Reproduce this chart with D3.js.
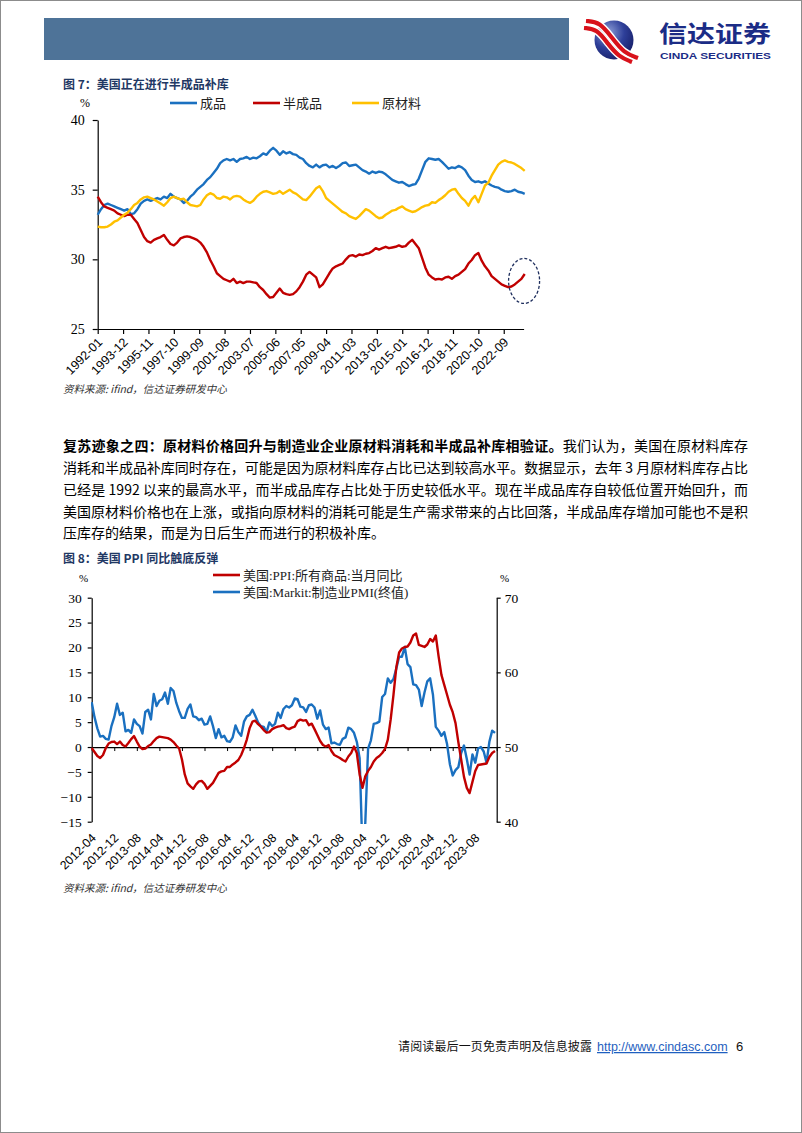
<!DOCTYPE html>
<html><head><meta charset="utf-8">
<script src="https://cdn.jsdelivr.net/npm/d3@7"></script>
<style>body{margin:0;background:#fff}svg{display:block}</style>
</head><body>
<svg id="page" width="802" height="1133"></svg>
<script>
// ---------------- DATA: chart 1 (quarterly samples from 1992-01, step 3 months) ----------------
const c1Start = "1992-01";
const c1Step = 3;
const c1Ticks = ["1992-01","1993-12","1995-11","1997-10","1999-09","2001-08","2003-07","2005-06","2007-05","2009-04","2011-03","2013-02","2015-01","2016-12","2018-11","2020-10","2022-09"];
const c1YTicks = [25,30,35,40];
const c1Names = ["成品","半成品","原材料"];
const c1Finished = [33.2,33.6,33.9,34.0,33.9,33.8,33.7,33.6,33.5,33.6,
33.25,33.3,33.6,34.0,34.2,34.3,34.2,34.3,34.4,34.3,
34.5,34.4,34.7,34.5,34.4,34.3,34.05,34.2,34.5,34.7,
35.0,35.2,35.4,35.7,35.9,36.2,36.5,36.9,37.1,37.2,
37.1,37.2,37.0,37.2,37.25,37.35,37.2,37.3,37.25,37.4,
37.6,37.5,37.8,38.0,37.8,37.5,37.75,37.6,37.7,37.55,
37.5,37.3,37.2,36.9,36.7,36.6,36.8,36.6,36.75,36.8,
36.6,36.7,36.55,36.7,36.9,36.95,36.7,36.75,36.8,36.6,
36.4,36.3,36.15,36.3,36.2,36.3,36.25,36.1,35.9,35.7,
35.6,35.5,35.55,35.4,35.26,35.35,35.4,35.8,36.4,37.0,
37.25,37.2,37.15,37.2,37.0,36.75,36.5,36.6,36.55,36.7,
36.6,36.4,36.0,35.7,35.55,35.6,35.5,35.6,35.45,35.3,
35.2,35.15,35.0,34.9,34.85,34.9,35.0,34.85,34.8,34.7];
const c1Semi = [34.5,34.1,33.8,33.7,33.6,33.5,33.3,33.2,33.1,33.2,
33.2,32.9,32.6,32.1,31.6,31.3,31.2,31.4,31.5,31.6,
31.75,31.4,31.1,31.0,31.2,31.5,31.6,31.65,31.6,31.5,
31.4,31.2,30.9,30.5,29.95,29.5,29.0,28.8,28.6,28.5,
28.4,28.6,28.3,28.4,28.3,28.4,28.4,28.35,28.3,28.0,
27.8,27.5,27.25,27.3,27.6,27.9,27.6,27.5,27.45,27.5,
27.7,28.0,28.4,28.9,29.1,28.9,28.7,28.0,28.2,28.6,
29.0,29.35,29.5,29.6,29.7,30.0,30.25,30.3,30.2,30.35,
30.3,30.4,30.45,30.6,30.8,30.7,30.8,30.9,30.8,30.85,
30.9,31.0,30.9,30.95,31.2,31.4,31.1,30.8,30.1,29.4,
28.9,28.7,28.55,28.6,28.55,28.7,28.75,28.6,28.8,28.9,
29.1,29.3,29.7,29.95,30.3,30.45,29.9,29.5,29.2,28.8,
28.6,28.4,28.2,28.1,28.0,28.05,28.2,28.4,28.6,28.95];
const c1Raw = [32.35,32.3,32.3,32.35,32.5,32.7,32.8,33.0,33.2,33.35,
33.6,33.9,34.05,34.3,34.45,34.5,34.4,34.3,34.15,34.0,
33.85,34.1,34.4,34.5,34.4,34.3,34.35,34.1,33.9,33.85,
33.8,33.9,34.3,34.6,34.75,34.65,34.4,34.35,34.5,34.45,
34.3,34.5,34.55,34.5,34.3,34.15,34.05,34.2,34.5,34.7,
34.85,34.9,34.8,34.7,34.75,34.9,34.7,34.85,35.0,34.8,
34.7,34.5,34.3,34.25,34.5,34.8,35.1,35.25,34.9,34.4,
34.2,34.0,33.8,33.6,33.4,33.3,33.1,33.0,32.9,33.1,
33.35,33.6,33.5,33.3,33.1,32.95,33.0,33.2,33.35,33.5,
33.55,33.7,33.8,33.6,33.5,33.4,33.45,33.6,33.75,33.85,
33.9,34.1,34.05,34.25,34.4,34.6,34.85,35.0,35.05,34.7,
34.4,34.2,33.85,34.3,34.55,34.1,34.7,35.3,35.5,36.0,
36.4,36.8,37.0,37.1,37.0,36.95,36.85,36.7,36.55,36.35];
const c1LastMonth = "2024-04";

// ---------------- DATA: chart 2 (monthly, 2012-04 .. 2024-03) ----------------
const c2Start = "2012-04";
const c2Ticks = ["2012-04","2012-12","2013-08","2014-04","2014-12","2015-08","2016-04","2016-12","2017-08","2018-04","2018-12","2019-08","2020-04","2020-12","2021-08","2022-04","2022-12","2023-08"];
const c2LeftTicks = [-15,-10,-5,0,5,10,15,20,25,30];
const c2RightTicks = [40,50,60,70];
const c2Names = ["美国:PPI:所有商品:当月同比","美国:Markit:制造业PMI(终值)"];
const c2PPI = [-0.2,-1.0,-1.8,-2.2,-1.6,-0.2,0.7,1.0,1.1,0.6,
1.1,0.4,0.1,0.8,1.6,2.2,1.1,0.1,-0.4,-0.3,
0.2,0.5,1.2,1.8,2.1,2.0,1.9,1.8,1.5,1.0,
0.3,-0.3,-2.5,-5.5,-7.3,-7.9,-8.4,-7.5,-6.9,-6.8,
-7.4,-8.4,-7.8,-7.2,-6.2,-5.2,-4.9,-4.8,-4.0,-4.0,
-3.5,-3.1,-2.6,-1.6,-0.2,1.5,3.8,5.1,5.3,4.6,
4.1,3.4,2.9,3.0,3.6,3.9,4.1,4.2,4.4,3.8,
3.6,3.9,4.1,5.2,5.5,5.3,5.4,4.4,4.7,3.6,
2.4,1.2,0.4,0.1,0.4,-0.8,-1.6,-1.9,-2.2,-2.6,
-2.9,-1.9,-1.2,0.1,-1.2,-5.5,-8.2,-5.9,-4.8,-4.0,
-2.9,-2.2,-1.8,-1.2,-0.4,1.5,5.5,10.5,16.0,19.0,
19.8,20.1,20.2,21.0,22.4,22.8,20.5,20.3,20.1,20.6,
21.7,21.2,22.4,18.2,14.5,12.5,10.5,8.5,7.0,4.8,
1.0,-2.5,-6.0,-8.2,-9.25,-7.0,-4.8,-3.6,-3.5,-3.4,
-3.3,-2.0,-1.2,-0.8];
const c2PMI = [56.0,54.0,52.5,51.4,51.5,51.1,51.0,52.8,54.0,
55.8,54.3,54.6,52.1,52.3,51.9,53.7,53.1,52.8,51.8,54.7,55.0,
53.7,57.1,55.5,56.2,56.4,57.3,55.8,57.9,57.5,55.9,54.8,53.9,
53.9,55.1,55.7,54.1,54.0,53.6,53.8,53.0,53.1,54.1,52.8,51.2,
52.4,51.3,51.5,50.8,50.7,51.3,52.9,52.0,51.5,53.4,54.1,54.3,
55.0,54.2,53.3,52.8,52.7,52.0,53.3,52.8,53.1,54.6,53.9,55.1,
55.5,55.3,55.6,56.5,56.4,55.4,55.3,54.7,55.6,55.7,55.3,53.8,
54.9,53.0,52.4,52.6,50.5,50.6,50.4,50.3,51.1,51.3,52.6,52.4,
51.9,50.7,48.5,36.1,39.8,49.8,50.9,53.1,53.2,53.4,56.7,57.1,
59.2,58.6,59.1,60.5,62.1,62.1,63.4,61.1,60.7,58.4,58.3,57.7,
55.5,57.3,58.8,59.2,57.0,52.7,52.2,51.5,52.0,50.4,47.7,46.2,
46.9,47.3,49.2,50.2,48.4,46.3,49.0,47.9,49.8,50.0,49.4,47.9,
50.7,52.2,51.9];

// ---------------- texts ----------------
const headerTitle = "信达证券";
const headerSub = "CINDA SECURITIES";
const title1 = "图 7：美国正在进行半成品补库";
const title2 = "图 8：美国 PPI 同比触底反弹";
const sourceText = "资料来源: ifind，信达证券研发中心";
const paraBold = "复苏迹象之四：原材料价格回升与制造业企业原材料消耗和半成品补库相验证。";
const paraLines = [
 "我们认为，美国在原材料库存",
 "消耗和半成品补库同时存在，可能是因为原材料库存占比已达到较高水平。数据显示，去年 3 月原材料库存占比",
 "已经是 1992 以来的最高水平，而半成品库存占比处于历史较低水平。现在半成品库存自较低位置开始回升，而",
 "美国原材料价格也在上涨，或指向原材料的消耗可能是生产需求带来的占比回落，半成品库存增加可能也不是积",
 "压库存的结果，而是为日后生产而进行的积极补库。"];
const footerText = "请阅读最后一页免责声明及信息披露";
const footerLink = "http://www.cindasc.com";
const pageNo = "6";

// ---------------- drawing ----------------
const SERIF = "'Liberation Serif','Times New Roman','Noto Sans CJK SC',serif";
const CJK = "'Noto Sans CJK SC','Noto Sans',sans-serif";
const ARIAL = "'Liberation Sans',Arial,sans-serif";
const BLUE = "#1A70C0", RED = "#C00000", YELLOW = "#FFC000", NAVY = "#1F3864";
const mIdx = (s, base) => { const [y,m] = s.split("-").map(Number); const [by,bm] = base.split("-").map(Number); return (y-by)*12 + (m-bm); };

const svg = d3.select("#page");
svg.append("rect").attr("x",0.5).attr("y",0.5).attr("width",801).attr("height",1132)
  .attr("fill","#fff").attr("stroke","#8c8c8c").attr("stroke-width",1);

// header bar
svg.append("rect").attr("x",44).attr("y",18).attr("width",525).attr("height",42).attr("fill","#4E7398");
// logo
const defs = svg.append("defs");
const rg = defs.append("radialGradient").attr("id","lg").attr("cx","35%").attr("cy","30%").attr("r","75%");
rg.append("stop").attr("offset","0%").attr("stop-color","#8FA0D8");
rg.append("stop").attr("offset","55%").attr("stop-color","#2E3F99");
rg.append("stop").attr("offset","100%").attr("stop-color","#18206A");
svg.append("circle").attr("cx",614).attr("cy",40).attr("r",19.5).attr("fill","url(#lg)");
const ribbon = d3.line().curve(d3.curveBasis);
[[[586,21],[600,22],[612,38],[624,53],[638,58]],[[584,28],[597,29],[608,44],[619,57],[632,62]]].forEach(p=>{
  svg.append("path").attr("d",ribbon(p)).attr("fill","none").attr("stroke","#fff").attr("stroke-width",7);
  svg.append("path").attr("d",ribbon(p)).attr("fill","none").attr("stroke","#D8121B").attr("stroke-width",4.2);
});
svg.append("text").attr("x",659).attr("y",42).attr("font-family",CJK).attr("font-weight",700)
  .attr("font-size",23).attr("fill","#1B2C86").attr("textLength",112).attr("lengthAdjust","spacingAndGlyphs").text(headerTitle);
svg.append("text").attr("x",660).attr("y",58.5).attr("font-family",ARIAL).attr("font-weight",700)
  .attr("font-size",9.5).attr("fill","#1B2C86").attr("textLength",111).attr("lengthAdjust","spacingAndGlyphs").text(headerSub);

// ===== chart 1 =====
svg.append("text").attr("x",63).attr("y",89).attr("font-family",CJK).attr("font-weight",700)
  .attr("font-size",12).attr("fill",NAVY).text(title1);

const x1 = d3.scaleLinear().domain([0, mIdx(c1LastMonth,c1Start)-1]).range([97.7,523.6]);
const y1 = d3.scaleLinear().domain([25,40]).range([329,120]);

const ax1 = svg.append("g").attr("transform","translate(97.7,0)")
  .call(d3.axisLeft(y1).tickValues(c1YTicks).tickSize(5).tickSizeOuter(0));
ax1.select(".domain").attr("stroke","#000").attr("stroke-width",1.2);
ax1.selectAll(".tick line").attr("stroke","#000").attr("stroke-width",1.2);
ax1.selectAll(".tick text").attr("font-family",SERIF).attr("font-size",14).attr("fill","#000").attr("x",-13);

const bx1 = svg.append("g").attr("transform","translate(0,329)")
  .call(d3.axisBottom(x1).tickValues(c1Ticks.map(t=>mIdx(t,c1Start))).tickSize(5).tickSizeOuter(0)
    .tickFormat((d,i)=>c1Ticks[i]));
bx1.select(".domain").attr("stroke","#000").attr("stroke-width",1.2);
bx1.selectAll(".tick line").attr("stroke","#000").attr("stroke-width",1.2);
bx1.selectAll(".tick text").attr("font-family",ARIAL).attr("font-size",12.5).attr("fill","#000")
  .attr("x",0).attr("y",0).attr("dy",0).attr("text-anchor","end")
  .attr("transform","translate(5,14) rotate(-45)");

const c1Series = [[c1Finished,BLUE],[c1Semi,RED],[c1Raw,YELLOW]];
const line1 = d3.line().x((d,i)=>x1(i*c1Step)).y(d=>y1(d));
c1Series.forEach(([arr,col])=>{
  svg.append("path").datum(arr).attr("d",line1).attr("fill","none").attr("stroke",col)
    .attr("stroke-width",2.4).attr("stroke-linejoin","round");
});
// dashed ellipse highlight
svg.append("ellipse").attr("cx",x1(mIdx("2023-10",c1Start))+6).attr("cy",y1(28.45))
  .attr("rx",15.5).attr("ry",22.5).attr("fill","none").attr("stroke","#1F2F5E")
  .attr("stroke-width",1.3).attr("stroke-dasharray","3,2");

// legend 1
svg.append("text").attr("x",80).attr("y",107).attr("font-family",SERIF).attr("font-size",12).text("%");
const lg1 = [[170,BLUE],[253,RED],[352,YELLOW]];
lg1.forEach(([lx,col],i)=>{
  svg.append("line").attr("x1",lx).attr("x2",lx+27).attr("y1",103).attr("y2",103).attr("stroke",col).attr("stroke-width",2.6);
  svg.append("text").attr("x",lx+30).attr("y",107.5).attr("font-family",CJK).attr("font-size",13).attr("fill","#222").text(c1Names[i]);
});
svg.append("text").attr("x",63).attr("y",393).attr("font-family",CJK).attr("font-style","italic")
  .attr("font-size",10.5).attr("fill","#333").text(sourceText);

// ===== paragraph =====
const paraY = [451,473,494.5,516.5,538];
paraLines.forEach((t,i)=>{
  const tx = svg.append("text").attr("x",63).attr("y",paraY[i]).attr("font-family",CJK).attr("font-size",14).attr("fill","#000");
  if(i<4) tx.attr("textLength",685).attr("lengthAdjust","spacing");
  if(i===0){ tx.append("tspan").attr("font-weight",700).text(paraBold); tx.append("tspan").text(t); }
  else tx.text(t);
});

// ===== chart 2 =====
svg.append("text").attr("x",63).attr("y",563).attr("font-family",CJK).attr("font-weight",700)
  .attr("font-size",12).attr("fill",NAVY).text(title2);

const x2 = d3.scaleLinear().domain([0,143.6]).range([91.7,496.7]);
const yL = d3.scaleLinear().domain([-15,30]).range([821.7,597.7]);
const yR = d3.scaleLinear().domain([40,70]).range([821.7,597.7]);

defs.append("clipPath").attr("id","c2clip").append("rect").attr("x",91).attr("y",596).attr("width",407).attr("height",228);

const la = svg.append("g").attr("transform","translate(91.7,0)")
  .call(d3.axisLeft(yL).tickValues(c2LeftTicks).tickSize(4).tickSizeOuter(0));
la.select(".domain").attr("stroke","#000").attr("stroke-width",1.2);
la.selectAll(".tick line").attr("stroke","#000").attr("stroke-width",1.2);
la.selectAll(".tick text").attr("font-family",SERIF).attr("font-size",13.5).attr("fill","#000").attr("x",-10);

const ra = svg.append("g").attr("transform","translate(496.7,0)")
  .call(d3.axisRight(yR).tickValues(c2RightTicks).tickSize(4).tickSizeOuter(0));
ra.select(".domain").attr("stroke","#000").attr("stroke-width",1.2);
ra.selectAll(".tick line").attr("stroke","#000").attr("stroke-width",1.2);
ra.selectAll(".tick text").attr("font-family",SERIF).attr("font-size",13.5).attr("fill","#000").attr("x",8);

const tickIdx2 = c2Ticks.map(t=>mIdx(t,c2Start));
const za = svg.append("g").attr("transform",`translate(0,${yL(0)})`)
  .call(d3.axisBottom(x2).tickValues(tickIdx2.concat([143.6])).tickSize(4).tickSizeOuter(0).tickFormat(""));
za.select(".domain").attr("stroke","#000").attr("stroke-width",1.2);
za.selectAll(".tick line").attr("stroke","#000").attr("stroke-width",1);

svg.append("g").selectAll("text").data(c2Ticks).join("text")
  .attr("transform",t=>`translate(${x2(mIdx(t,c2Start))+5},${yL(-15)+17}) rotate(-45)`)
  .attr("text-anchor","end").attr("font-family",ARIAL).attr("font-size",12.2).attr("fill","#000").text(t=>t);

const g2 = svg.append("g").attr("clip-path","url(#c2clip)");
g2.append("path").datum(c2PMI).attr("d",d3.line().x((d,i)=>x2(i)).y(d=>yR(d)))
  .attr("fill","none").attr("stroke",BLUE).attr("stroke-width",2.4).attr("stroke-linejoin","round");
g2.append("path").datum(c2PPI).attr("d",d3.line().x((d,i)=>x2(i)).y(d=>yL(d)))
  .attr("fill","none").attr("stroke",RED).attr("stroke-width",2.4).attr("stroke-linejoin","round");

// legend 2
svg.append("text").attr("x",79).attr("y",582).attr("font-family",SERIF).attr("font-size",11).text("%");
svg.append("text").attr("x",500).attr("y",582).attr("font-family",SERIF).attr("font-size",11).text("%");
[[575,RED],[592,BLUE]].forEach(([ly,col],i)=>{
  svg.append("line").attr("x1",213).attr("x2",240).attr("y1",ly).attr("y2",ly).attr("stroke",col).attr("stroke-width",2.6);
  svg.append("text").attr("x",243).attr("y",ly+4.5).attr("font-family",SERIF).attr("font-size",13).attr("fill","#222").text(c2Names[i]);
});
svg.append("text").attr("x",63).attr("y",892).attr("font-family",CJK).attr("font-style","italic")
  .attr("font-size",10.5).attr("fill","#333").text(sourceText);

// footer
svg.append("text").attr("x",398).attr("y",1051).attr("font-family",CJK).attr("font-size",12).attr("fill","#111")
  .attr("textLength",194).attr("lengthAdjust","spacing").text(footerText);
svg.append("text").attr("x",597).attr("y",1051).attr("font-family",ARIAL).attr("font-size",12.5).attr("fill","#1F5FC0")
  .attr("text-decoration","underline").text(footerLink);
svg.append("text").attr("x",736).attr("y",1051).attr("font-family",ARIAL).attr("font-size",13).attr("fill","#111").text(pageNo);
</script>
</body></html>
